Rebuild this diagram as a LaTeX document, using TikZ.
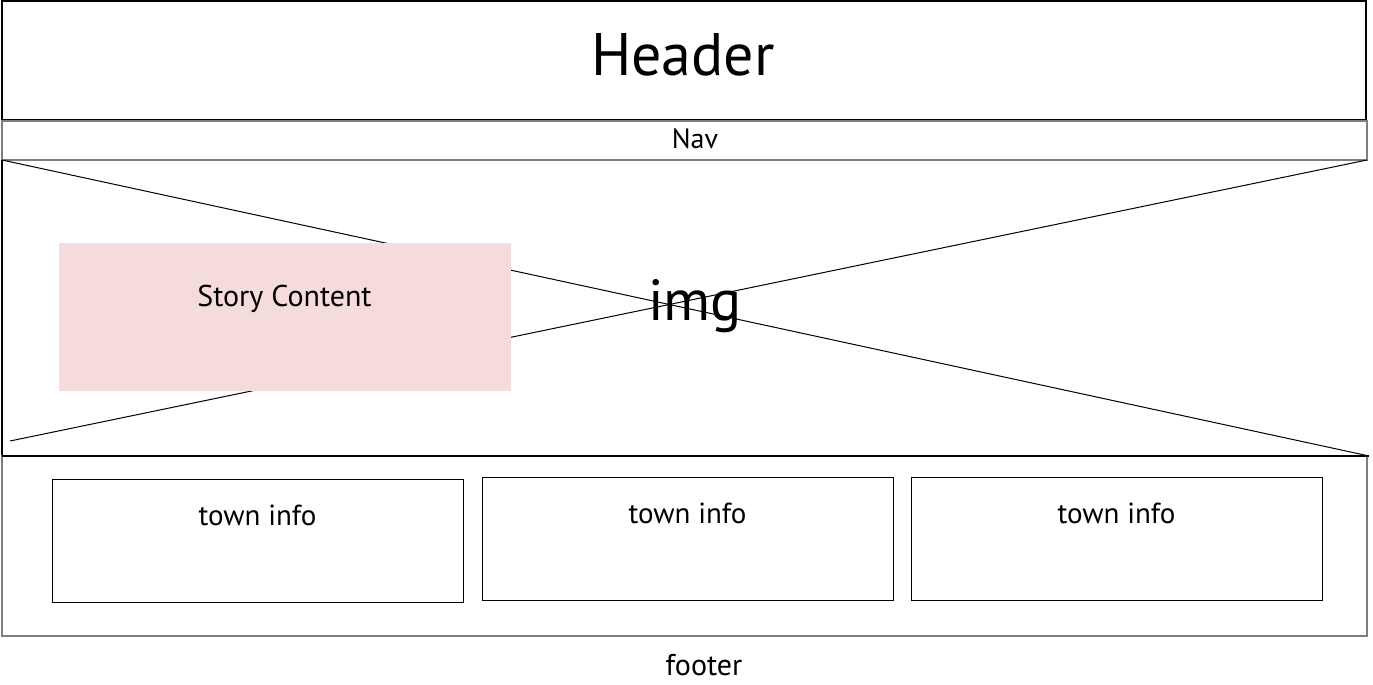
\documentclass[tikz,border=0pt]{standalone}
\usepackage{fontspec}
\setmainfont{PT Sans}
\definecolor{pinkfill}{HTML}{F6DBDC}
\definecolor{greyline}{HTML}{7F7F7F}
\tikzset{
  blackbox/.style={draw=black, line width=1.2pt, rectangle, inner sep=0pt},
  greybox/.style={draw=greyline, line width=1.5pt, rectangle, inner sep=0pt},
  txt/.style={anchor=base, inner sep=0pt, text=black},
  diag/.style={draw=black, line width=1pt},
  smalltxt/.style={txt, font=\fontsize{29}{33}\selectfont},
}
\begin{document}
\begin{tikzpicture}[x=1pt,y=-1pt]
\useasboundingbox (0,0) rectangle (1373,685);
% header
\node[blackbox, minimum width=1364pt, minimum height=119pt] (header) at (684,60.5) {};
\node[txt, font=\fontsize{60}{66}\selectfont] (headertxt) at (683,75) {Header};
% nav
\node[greybox, minimum width=1365pt, minimum height=39pt] (nav) at (684.5,140.5) {};
\node[txt, font=\fontsize{28}{32}\selectfont] (navtxt) at (695,148) {Nav};
% img area
\coordinate (tl) at (2,160);
\coordinate (tr) at (1367,160);
\coordinate (bl) at (10,441);
\coordinate (br) at (1369,456);
\coordinate (lb) at (2,456);
\draw[diag] (tl) -- (br);
\draw[diag] (tr) -- (bl);
\draw[draw=black, line width=1.2pt] (tl) -- (lb);
% footer
\node[greybox, minimum width=1365pt, minimum height=180pt] (footer) at (684.5,546) {};
\draw[draw=black, line width=1.2pt] (lb) -- (br);
\node[txt, font=\fontsize{30}{34}\selectfont] (footertxt) at (704,675) {footer};
% img text
\node[txt, font=\fontsize{58}{64}\selectfont] (imgtxt) at (695,320) {img};
% story content
\node[rectangle, fill=pinkfill, minimum width=452pt, minimum height=148pt, inner sep=0pt] (story) at (285,317) {};
\node[txt, font=\fontsize{30}{34}\selectfont] (storytxt) at (284.5,306) {Story Content};
% town info
\node[blackbox, line width=1pt, minimum width=411pt, minimum height=123pt] (town1) at (257.5,540.5) {};
\node[blackbox, line width=1pt, minimum width=411pt, minimum height=123pt] (town2) at (687.5,538.5) {};
\node[blackbox, line width=1pt, minimum width=411pt, minimum height=123pt] (town3) at (1116.5,538.5) {};
\node[smalltxt] (town1txt) at (257.5,525) {town info};
\node[smalltxt] (town2txt) at (687.5,523) {town info};
\node[smalltxt] (town3txt) at (1116.5,523) {town info};
\end{tikzpicture}
\end{document}
